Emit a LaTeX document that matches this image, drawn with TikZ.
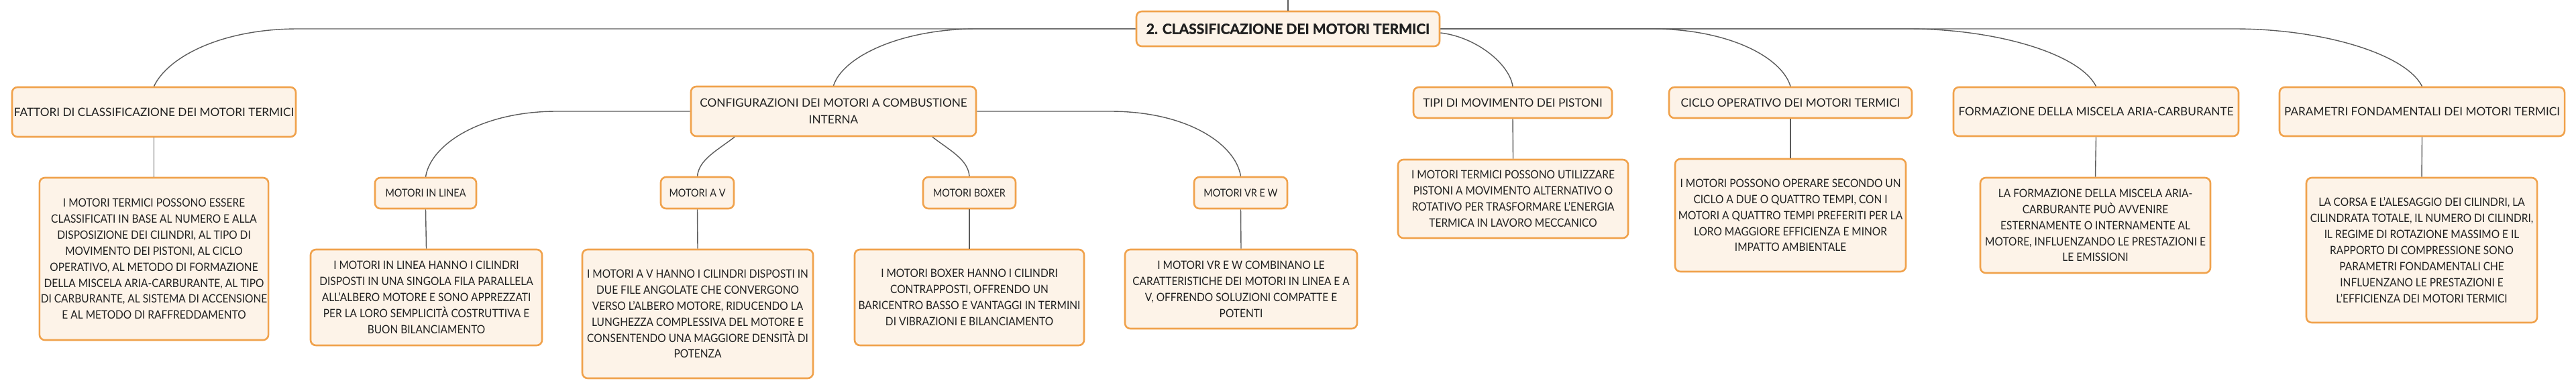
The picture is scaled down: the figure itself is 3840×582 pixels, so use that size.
\documentclass[tikz,border=0pt]{standalone}
\usepackage{fontspec}
\setmainfont{Lato}[FakeStretch=0.9]
\newfontfamily\rootfont{Lato}[BoldFeatures={FakeBold=1.5}]
\newfontfamily\topicfont{Lato}
\usetikzlibrary{calc}
\definecolor{boxline}{HTML}{F0A24C}
\definecolor{boxfill}{HTML}{FDF3E8}
\definecolor{conncol}{HTML}{5C5C5C}
\definecolor{txt}{HTML}{1F1F1F}
\begin{document}
\begin{tikzpicture}[x=1pt,y=-1pt,
  mbox/.style={draw=boxline, fill=boxfill, line width=2.6pt, rounded corners=8pt, align=center, inner sep=2pt, text=txt},
  rootbox/.style={mbox, font=\rootfont\fontsize{21}{25}\selectfont\bfseries, minimum width=452pt, minimum height=52pt},
  topic/.style={mbox, font=\topicfont\fontsize{17.2}{24.5}\selectfont},
  subtopic/.style={mbox, font=\fontsize{16}{20}\selectfont},
  desc/.style={mbox, font=\fontsize{17.2}{23.9}\selectfont},
  conn/.style={draw=conncol, line width=1.4pt}]
\useasboundingbox (0,0) rectangle (3840,582);
\coordinate (topend) at (1920,0);
% root
\node[rootbox] (root) at (1920,43) {2. CLASSIFICAZIONE DEI MOTORI TERMICI};
% level 1
\node[topic, minimum width=423pt, minimum height=74pt] (fat) at (229.5,167) {FATTORI DI CLASSIFICAZIONE DEI MOTORI TERMICI};
\node[topic, minimum width=425pt, minimum height=74pt] (conf) at (1242.5,166) {CONFIGURAZIONI DEI MOTORI A COMBUSTIONE\\INTERNA};
\node[topic, minimum width=296pt, minimum height=46pt] (tipi) at (2255,153) {TIPI DI MOVIMENTO DEI PISTONI};
\node[topic, minimum width=362pt, minimum height=46pt] (ciclo) at (2669,153) {CICLO OPERATIVO DEI MOTORI TERMICI};
\node[topic, minimum width=425pt, minimum height=73pt] (form) at (3124.5,166.5) {FORMAZIONE DELLA MISCELA ARIA-CARBURANTE};
\node[topic, minimum width=425pt, minimum height=73pt] (param) at (3610.5,166.5) {PARAMETRI FONDAMENTALI DEI MOTORI TERMICI};
% level 2
\node[subtopic, minimum width=151pt, minimum height=46pt] (linea) at (634.5,288) {MOTORI IN LINEA};
\node[subtopic, minimum width=109pt, minimum height=47pt] (av) at (1039.5,287.5) {MOTORI A V};
\node[subtopic, minimum width=138pt, minimum height=47pt] (boxer) at (1445,287.5) {MOTORI BOXER};
\node[subtopic, minimum width=139pt, minimum height=47pt] (vr) at (1849.5,287.5) {MOTORI VR E W};
% descriptions
\node[desc, minimum width=341pt, minimum height=242pt] (fatd) at (229.5,386) {I MOTORI TERMICI POSSONO ESSERE\\CLASSIFICATI IN BASE AL NUMERO E ALLA\\DISPOSIZIONE DEI CILINDRI, AL TIPO DI\\MOVIMENTO DEI PISTONI, AL CICLO\\OPERATIVO, AL METODO DI FORMAZIONE\\DELLA MISCELA ARIA-CARBURANTE, AL TIPO\\DI CARBURANTE, AL SISTEMA DI ACCENSIONE\\E AL METODO DI RAFFREDDAMENTO};
\node[desc, minimum width=345pt, minimum height=143pt] (lined) at (635.5,443.5) {I MOTORI IN LINEA HANNO I CILINDRI\\DISPOSTI IN UNA SINGOLA FILA PARALLELA\\ALL'ALBERO MOTORE E SONO APPREZZATI\\PER LA LORO SEMPLICITÀ COSTRUTTIVA E\\BUON BILANCIAMENTO};
\node[desc, minimum width=344pt, minimum height=192pt] (avd) at (1040,468) {I MOTORI A V HANNO I CILINDRI DISPOSTI IN\\DUE FILE ANGOLATE CHE CONVERGONO\\VERSO L'ALBERO MOTORE, RIDUCENDO LA\\LUNGHEZZA COMPLESSIVA DEL MOTORE E\\CONSENTENDO UNA MAGGIORE DENSITÀ DI\\POTENZA};
\node[desc, minimum width=342pt, minimum height=143pt] (boxd) at (1445,443.5) {I MOTORI BOXER HANNO I CILINDRI\\CONTRAPPOSTI, OFFRENDO UN\\BARICENTRO BASSO E VANTAGGI IN TERMINI\\DI VIBRAZIONI E BILANCIAMENTO};
\node[desc, minimum width=346pt, minimum height=118pt] (vrd) at (1850,431) {I MOTORI VR E W COMBINANO LE\\CARATTERISTICHE DEI MOTORI IN LINEA E A\\V, OFFRENDO SOLUZIONI COMPATTE E\\POTENTI};
\node[desc, minimum width=343pt, minimum height=117pt] (tipid) at (2255.5,296.5) {I MOTORI TERMICI POSSONO UTILIZZARE\\PISTONI A MOVIMENTO ALTERNATIVO O\\ROTATIVO PER TRASFORMARE L'ENERGIA\\TERMICA IN LAVORO MECCANICO};
\node[desc, minimum width=344pt, minimum height=168pt] (cicd) at (2669,321) {I MOTORI POSSONO OPERARE SECONDO UN\\CICLO A DUE O QUATTRO TEMPI, CON I\\MOTORI A QUATTRO TEMPI PREFERITI PER LA\\LORO MAGGIORE EFFICIENZA E MINOR\\IMPATTO AMBIENTALE};
\node[desc, minimum width=343pt, minimum height=142pt] (formd) at (3123.5,336) {LA FORMAZIONE DELLA MISCELA ARIA-\\CARBURANTE PUÒ AVVENIRE\\ESTERNAMENTE O INTERNAMENTE AL\\MOTORE, INFLUENZANDO LE PRESTAZIONI E\\LE EMISSIONI};
\node[desc, minimum width=344pt, minimum height=216pt] (pard) at (3610,373) {LA CORSA E L'ALESAGGIO DEI CILINDRI, LA\\CILINDRATA TOTALE, IL NUMERO DI CILINDRI,\\IL REGIME DI ROTAZIONE MASSIMO E IL\\RAPPORTO DI COMPRESSIONE SONO\\PARAMETRI FONDAMENTALI CHE\\INFLUENZANO LE PRESTAZIONI E\\L'EFFICIENZA DEI MOTORI TERMICI};
% connectors from root
\draw[conn] (root.north) -- (topend);
\draw[conn] (root.west) -- (444,43) .. controls (330,43) and (250,85) .. (fat.north);
\draw[conn] (root.west) -- (1456,43) .. controls (1342,43) and (1256,85) .. (conf.north);
\draw[conn] ($(root.east)+(0,6)$) .. controls (2200,55) and (2250,95) .. (tipi.north);
\draw[conn] (root.east) -- (2462,43) .. controls (2576,43) and (2656,85) .. (ciclo.north);
\draw[conn] (root.east) -- (2845,43) .. controls (2975,43) and (3100,80) .. (form.north);
\draw[conn] (root.east) -- (3331,43) .. controls (3461,43) and (3586,80) .. (param.north);
% connectors from configurations
\draw[conn] (conf.west) -- (830,166) .. controls (718,166) and (642,215) .. (linea.north);
\draw[conn] (conf.east) -- (1655,166) .. controls (1770,166) and (1842,215) .. (vr.north);
\draw[conn] ($(conf.south)+(-147.5,0)$) .. controls (1068,225) and (1042,238) .. (av.north);
\draw[conn] ($(conf.south)+(147.5,0)$) .. controls (1417,225) and (1443,238) .. (boxer.north);
% vertical connectors
\foreach \a/\b in {fat/fatd, linea/lined, av/avd, boxer/boxd, vr/vrd, tipi/tipid, ciclo/cicd, form/formd, param/pard}
  \draw[conn] (\a.south) -- (\b.north);
\end{tikzpicture}
\end{document}
